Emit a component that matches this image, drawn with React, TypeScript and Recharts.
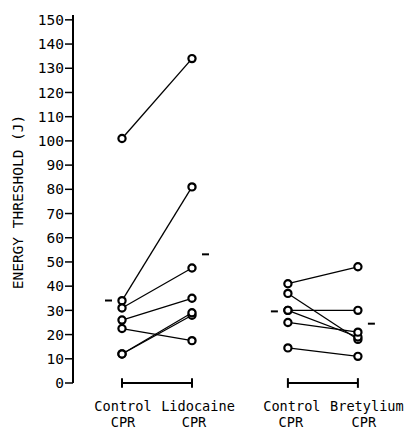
import React from 'react';
import { ScatterChart, Scatter, XAxis, YAxis, ReferenceLine } from 'recharts';

// energy thresholds (J), each animal before / after the drug
const lidoControl = [101, 34, 31, 26, 22.5, 12, 12];
const lidoCPR = [134, 81, 47.5, 35, 17.5, 28, 29];
const bretControl = [41, 37, 30, 30, 25, 14.5];
const bretCPR = [48, 18, 19, 30, 21, 11];

// column positions on the x scale
const xCols = [1, 2, 3.37, 4.37];
const xLabels = ['Control', 'Lidocaine', 'Control', 'Bretylium'];
const xSubLabels = ['CPR', 'CPR', 'CPR', 'CPR'];
const yTicks = [0, 10, 20, 30, 40, 50, 60, 70, 80, 90, 100, 110, 120, 130, 140, 150];

const W = 411;
const H = 431;
const font = '"DejaVu Sans Mono", monospace';

const mean = (a: number[]) => a.reduce((s, v) => s + v, 0) / a.length;

const lidoPairs = lidoControl.map((v, i) => [
  { x: xCols[0], y: v },
  { x: xCols[1], y: lidoCPR[i] },
]);
const bretPairs = bretControl.map((v, i) => [
  { x: xCols[2], y: v },
  { x: xCols[3], y: bretCPR[i] },
]);

const means = [
  { x: xCols[0], y: mean(lidoControl), side: -1 },
  { x: xCols[1], y: mean(lidoCPR), side: 1 },
  { x: xCols[2], y: mean(bretControl), side: -1 },
  { x: xCols[3], y: mean(bretCPR), side: 1 },
];

const Ring = (props: any) => (
  <circle cx={props.cx} cy={props.cy} r={3.6} fill="#fff" stroke="#000" strokeWidth={2.2} />
);

const MeanDash = (props: any) => {
  const { cx, cy, payload } = props;
  const s = payload.side;
  return <line x1={cx + s * 10} x2={cx + s * 17} y1={cy} y2={cy} stroke="#000" strokeWidth={2} />;
};

// small nudges so the two rows sit like the typed original
const labelShift = [1, 6, 4, 9];
const subShift = [1, 2, 3, 6];

const XTick = (props: any) => {
  const { x, y, payload } = props;
  const i = xCols.indexOf(payload.value);
  if (i < 0) return null;
  return (
    <text textAnchor="middle" fontSize={13.6} fontFamily={font} fill="#000">
      <tspan x={x + labelShift[i]} y={y + 20}>
        {xLabels[i]}
      </tspan>
      <tspan x={x + subShift[i]} y={y + 36}>
        {xSubLabels[i]}
      </tspan>
    </text>
  );
};

const YLabel = (props: any) => {
  const vb = props.viewBox;
  const cy = vb.y + vb.height / 2 + 3;
  return (
    <text
      x={18}
      y={cy}
      transform={`rotate(-90, 18, ${cy})`}
      textAnchor="middle"
      dominantBaseline="central"
      fontSize={14.5}
      fontFamily={font}
      fill="#000"
    >
      ENERGY THRESHOLD (J)
    </text>
  );
};

const brackets = [
  [xCols[0], xCols[1]],
  [xCols[2], xCols[3]],
];

export default function App() {
  return (
    <div style={{ position: 'absolute', left: 0, top: 0, width: W, height: H, background: '#fff' }}>
      <ScatterChart width={W} height={H} margin={{ top: 15, right: 9, bottom: 0, left: 0 }}>
        <XAxis
          type="number"
          dataKey="x"
          domain={[0.3, 5]}
          ticks={xCols}
          interval={0}
          axisLine={false}
          tickLine={false}
          height={48}
          tick={<XTick />}
          allowDataOverflow
        />
        <YAxis
          type="number"
          dataKey="y"
          domain={[0, 152]}
          ticks={yTicks}
          interval={0}
          width={73}
          tickSize={8}
          tickMargin={1}
          axisLine={{ stroke: '#000', strokeWidth: 2 }}
          tickLine={{ stroke: '#000', strokeWidth: 1.5 }}
          tick={{ fill: '#000', fontSize: 14.5, fontFamily: font }}
          label={<YLabel />}
          allowDataOverflow
        />
        {brackets.map(([a, b], i) => (
          <ReferenceLine
            key={`b${i}`}
            segment={[{ x: a, y: 0 }, { x: b, y: 0 }]}
            stroke="#000"
            strokeWidth={2}
            ifOverflow="visible"
          />
        ))}
        {brackets.flat().map((a, i) => (
          <ReferenceLine
            key={`c${i}`}
            segment={[{ x: a, y: -2 }, { x: a, y: 2 }]}
            stroke="#000"
            strokeWidth={2}
            ifOverflow="visible"
          />
        ))}
        {[...lidoPairs, ...bretPairs].map((p, i) => (
          <Scatter
            key={`p${i}`}
            data={p}
            line={{ stroke: '#000', strokeWidth: 1.3 }}
            lineType="joint"
            shape={Ring}
            isAnimationActive={false}
          />
        ))}
        <Scatter data={means} shape={MeanDash} isAnimationActive={false} />
      </ScatterChart>
    </div>
  );
}
